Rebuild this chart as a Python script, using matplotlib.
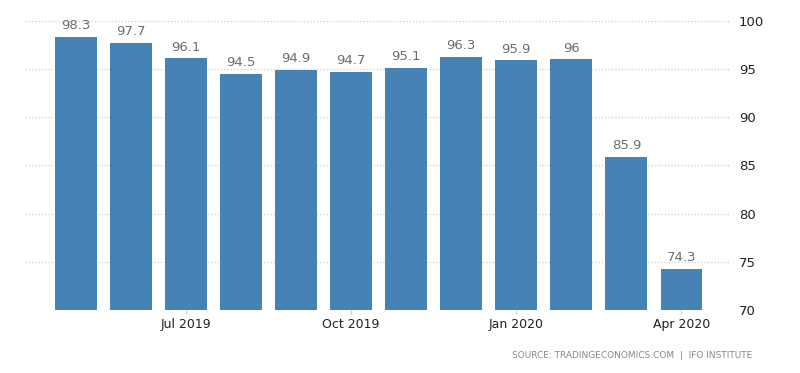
import numpy as np
import matplotlib.pyplot as plt

# Ifo business climate, monthly
months = ['May 2019', 'Jun 2019', 'Jul 2019', 'Aug 2019', 'Sep 2019', 'Oct 2019',
          'Nov 2019', 'Dec 2019', 'Jan 2020', 'Feb 2020', 'Mar 2020', 'Apr 2020']
values = [98.3, 97.7, 96.1, 94.5, 94.9, 94.7, 95.1, 96.3, 95.9, 96, 85.9, 74.3]
value_labels = ['98.3', '97.7', '96.1', '94.5', '94.9', '94.7', '95.1', '96.3',
                '95.9', '96', '85.9', '74.3']
shown_ticks = ['Jul 2019', 'Oct 2019', 'Jan 2020', 'Apr 2020']
y_ticks = [70, 75, 80, 85, 90, 95, 100]

fig = plt.figure(figsize=(8, 3.73), dpi=100)
ax = fig.add_axes([0.031, 0.169, 0.882, 0.775])

x = np.arange(len(months))
bars = ax.bar(x, values, width=0.76, color='#4682b4', zorder=2)

for xi, v, lab in zip(x, values, value_labels):
    ax.text(xi, v + 0.5, lab, ha='center', va='bottom', fontsize=9.5, color='#6d6d6d')

ax.set_ylim(70, 100)
ax.set_xlim(-0.93, 11.89)
ax.set_yticks(y_ticks)
ax.yaxis.tick_right()
ax.tick_params(axis='y', length=0, pad=6, labelsize=9.5, labelcolor='#222222')

tick_pos = [months.index(m) for m in shown_ticks]
ax.set_xticks(tick_pos)
ax.set_xticklabels(shown_ticks)
ax.tick_params(axis='x', length=3, color='#cccccc', pad=3, labelsize=9, labelcolor='#222222')

ax.grid(axis='y', linestyle=':', color='#cccccc', linewidth=0.9, zorder=0)
for s in ax.spines.values():
    s.set_visible(False)

fig.text(0.94, 0.035, 'SOURCE: TRADINGECONOMICS.COM  |  IFO INSTITUTE',
         ha='right', va='bottom', fontsize=6.5, color='#888888')

fig.savefig('out.png', dpi=100)
